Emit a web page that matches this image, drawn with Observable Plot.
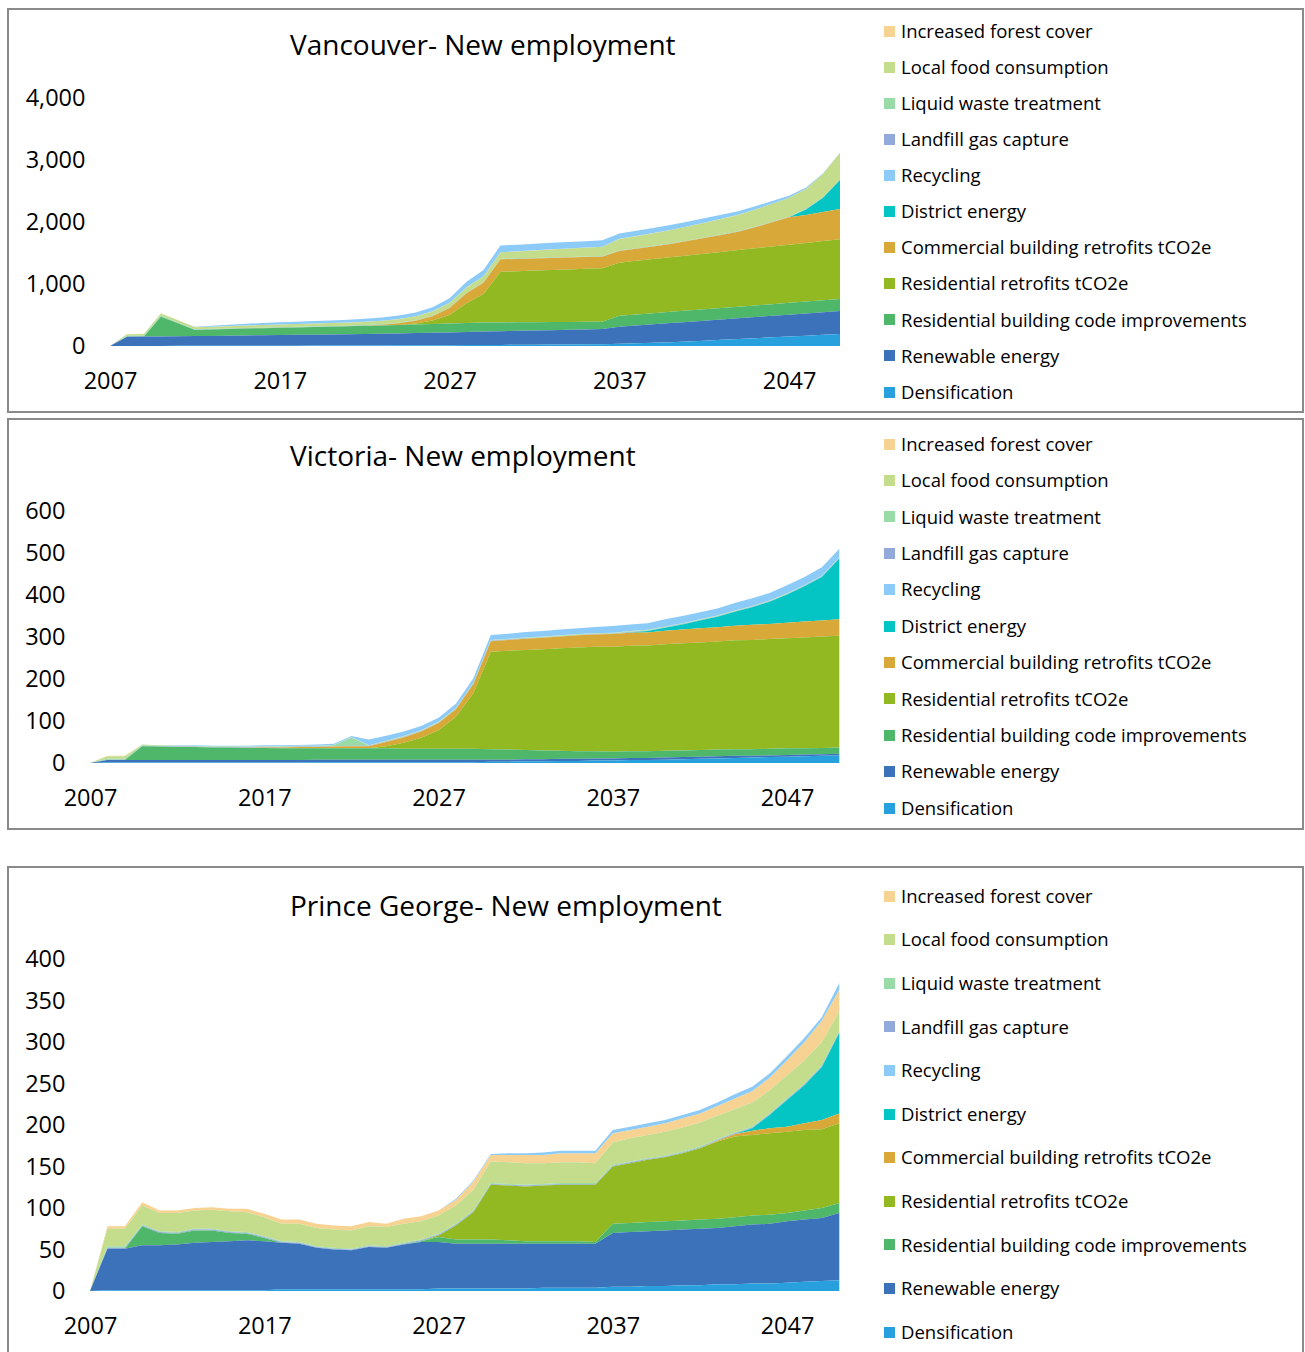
<!DOCTYPE html>
<html><head><meta charset="utf-8">
<script src="https://cdn.jsdelivr.net/npm/d3@7"></script>
<script src="https://cdn.jsdelivr.net/npm/@observablehq/plot@0.6"></script>
<style>
html,body{margin:0;padding:0;background:#fff;}
body{font-family:"Open Sans",sans-serif;color:#000;}
#root{position:relative;width:1305px;height:1352px;overflow:hidden;}
.frame{position:absolute;left:7px;width:1297px;border:2px solid #8a8a8a;box-sizing:border-box;}
.title{position:absolute;left:290px;font-size:28px;line-height:1;white-space:nowrap;}
.item{position:absolute;left:884px;height:20px;display:flex;align-items:center;font-size:18.5px;line-height:1;white-space:nowrap;}
.sw{width:11px;height:11px;margin-right:6px;flex:none;}
.chart{position:absolute;left:0;}
</style>
</head><body><div id="root"></div>
<script>
const years = [2007,2008,2009,2010,2011,2012,2013,2014,2015,2016,2017,2018,2019,2020,2021,2022,2023,2024,2025,2026,2027,2028,2029,2030,2031,2032,2033,2034,2035,2036,2037,2038,2039,2040,2041,2042,2043,2044,2045,2046,2047,2048,2049,2050];
const xTicks = [2007,2017,2027,2037,2047];
const vanYTicks = [0,1000,2000,3000,4000];
const vicYTicks = [0,100,200,300,400,500,600];
const pgYTicks = [0,50,100,150,200,250,300,350,400];

// legend order (as shown)
const seriesNames = ["Increased forest cover","Local food consumption","Liquid waste treatment","Landfill gas capture","Recycling","District energy","Commercial building retrofits tCO2e","Residential retrofits tCO2e","Residential building code improvements","Renewable energy","Densification"];
const seriesColors = ["#F7D393","#C3DD8C","#98DBA6","#92A9D9","#8CCBF8","#04C5C4","#D8A838","#92B822","#4FB76A","#3C72B9","#29A0DE"];
// stacking order, bottom to top
const stackOrder = ["Densification","Renewable energy","Residential building code improvements","Residential retrofits tCO2e","Commercial building retrofits tCO2e","District energy","Landfill gas capture","Liquid waste treatment","Local food consumption","Increased forest cover","Recycling"];

// Vancouver
const van_forest = [0,4,4,4,4,4,2,2,2,2,2,2,2,2,2,2,2,2,2,2,2,2,2,2,2,2,2,2,2,2,2,2,2,2,2,2,2,2,2,2,2,2,2,2];
const van_food = [0,25,25,35,33,30,33,35,38,40,42,44,46,48,50,52,55,58,62,68,75,85,95,105,112,120,128,135,142,150,185,195,205,215,226,237,248,260,275,290,306,323,376,430];
const van_liquid = [0,13,13,15,12,10,6,6,6,6,6,6,6,6,6,6,6,6,6,6,6,6,6,6,6,6,6,6,6,6,6,6,6,6,6,6,6,6,6,6,6,6,6,6];
const van_landfill = [0,3,3,3,3,3,3,3,3,3,3,3,3,3,3,3,3,3,3,3,3,3,3,3,3,3,3,3,3,3,3,3,3,3,3,3,3,3,3,3,3,3,3,3];
const van_recycling = [0,0,0,0,0,5,15,22,28,32,35,38,40,42,45,48,52,56,60,66,74,90,100,108,107,106,105,104,103,102,86,84,82,80,76,72,66,60,52,42,30,18,6,0];
const van_district = [0,0,0,0,0,0,0,0,0,0,0,0,0,0,0,0,0,0,0,0,0,0,0,0,0,0,0,0,0,0,0,0,0,0,0,0,0,0,0,0,0,90,230,467];
const van_commercial = [0,0,0,0,0,0,0,0,0,0,0,0,0,0,0,3,10,25,45,70,110,162,182,200,198,196,194,192,190,188,188,195,204,214,232,252,274,297,340,390,442,450,470,489];
const van_retrofits = [0,0,0,0,0,0,0,0,0,0,0,0,0,0,0,0,0,0,15,55,140,318,461,818,825,832,840,847,854,861,855,863,872,880,888,897,905,913,921,930,938,946,955,963];
const van_code = [0,0,0,318,208,98,105,109,112,115,118,120,123,125,128,131,134,137,140,142,144,146,146,142,138,134,130,126,122,118,178,179,180,181,183,183,185,186,188,188,190,191,192,193];
const van_renewable = [0,149,150,153,155,157,159,162,165,168,170,174,176,180,182,185,188,192,196,200,204,209,216,220,225,229,233,237,241,244,275,288,299,311,317,323,329,335,341,347,353,359,365,371];
const van_densification = [0,1,2,2,3,3,4,4,5,5,6,6,7,7,8,9,10,11,12,13,14,15,16,18,19,21,23,25,27,30,36,43,51,59,72,86,99,113,126,140,153,167,180,194];

// Victoria
const vic_forest = [0,1,1,0,0,0,0,0,0,0,0,0,0,0,0,0,0,0,0,0,0,0,0,0,0,0,0,0,0,0,0,0,0,0,0,0,0,0,0,0,0,0,0,0];
const vic_food = [0,6,6,2,1,1,1,1,1,1,1,1,1,1,1,1,1,1,1,1,1,1,1,1,1,1,1,1,1,1,1,1,1,1,1,1,1,1,1,1,1,1,1,1];
const vic_liquid = [0,2,2,1,1,1,1,1,1,1,1,1,1,1,2,20,0,1,1,1,1,1,1,1,1,1,1,1,1,1,1,1,1,1,1,1,1,1,1,1,1,1,1,1];
const vic_landfill = [0,1,1,1,1,1,1,1,1,1,1,1,1,1,1,1,1,1,1,1,1,1,1,1,1,1,1,1,1,1,1,1,1,1,1,1,1,1,1,1,1,1,1,1];
const vic_recycling = [0,0,0,0,0,1,1,1,1,2,2,2,2,3,3,2,14,12,11,10,10,10,11,12,12,13,13,14,14,15,16,16,16,17,17,17,17,18,18,18,19,19,20,20];
const vic_district = [0,0,0,0,0,0,0,0,0,0,0,0,0,0,0,0,0,0,0,0,0,0,0,0,0,0,0,0,0,0,0,1,3,7,12,18,25,33,42,53,67,84,104,145];
const vic_commercial = [0,0,0,0,0,0,0,0,0,0,1,2,3,3,4,5,5,10,13,15,17,18,22,25,26,27,27,28,29,29,30,31,31,32,33,34,34,35,36,36,37,38,38,39];
const vic_retrofits = [0,0,0,0,0,0,0,0,0,0,0,0,0,0,0,0,0,5,14,26,44,76,132,232,235,238,241,244,247,249,250,251,252,254,255,256,257,259,260,261,262,264,265,266];
const vic_code = [0,0,0,33,32,31,31,30,30,29,29,28,28,27,27,27,27,27,26,26,26,26,26,25,24,22,21,19,18,17,16,16,16,16,16,16,16,16,16,16,16,15,15,15];
const vic_renewable = [0,6,6,6,6,6,6,6,6,6,6,6,6,6,6,6,6,6,6,6,6,6,6,5,5,5,5,5,5,5,5,5,5,5,5,5,5,5,4,4,4,4,4,4];
const vic_densification = [0,1,1,1,1,1,1,1,1,1,1,1,1,2,2,2,2,2,2,2,2,2,2,3,3,4,4,5,5,6,6,7,7,8,9,10,11,12,13,14,15,16,17,18];

// Prince George
const pg_forest = [0,3,3,4,3,3,3,3,3,4,4,5,5,5,5,5,5,4,6,6,6,7,10,8,9,10,10,11,11,12,11,10,10,10,11,11,12,13,14,15,18,22,26,26];
const pg_food = [0,21,21,23,22,23,22,23,24,24,23,21,22,22,22,22,23,23,23,22,22,22,25,26,26,26,25,25,25,24,27,28,28,29,29,29,28,28,29,28,28,28,28,24];
const pg_liquid = [0,2,2,1,1,1,1,1,1,1,1,1,1,1,1,1,1,1,1,1,1,1,1,1,1,1,1,1,1,1,1,1,1,1,1,1,1,1,1,1,1,1,1,1];
const pg_landfill = [0,1,1,1,1,1,1,1,1,1,1,1,1,1,1,1,1,1,1,1,1,1,1,1,1,1,1,1,1,1,1,1,1,1,1,1,1,1,1,1,1,1,1,1];
const pg_recycling = [0,0,0,0,0,0,0,0,0,0,0,0,0,0,0,0,0,0,0,0,0,1,1,1,2,2,3,3,3,3,4,4,4,4,4,4,4,5,5,5,5,5,4,8];
const pg_district = [0,0,0,0,0,0,0,0,0,0,0,0,0,0,0,0,0,0,0,0,0,0,0,0,0,0,0,0,0,0,0,0,0,0,0,0,0,0,3,16,32,46,64,97];
const pg_commercial = [0,0,0,0,0,0,0,0,0,0,0,0,0,0,0,0,0,0,0,0,0,0,0,0,0,0,0,0,0,0,0,0,0,0,0,0,1,3,5,6,6,8,11,12];
const pg_retrofits = [0,0,0,0,0,0,0,0,0,0,0,0,0,0,0,0,0,0,0,0,2,17,33,66,66,66,67,68,68,69,69,72,75,77,81,86,93,97,97,98,98,97,95,96];
const pg_code = [0,0,0,23,15,13,15,14,10,8,4,0,0,0,0,0,0,0,0,1,6,5,5,5,4,3,3,3,3,2,11,11,11,11,11,11,11,11,11,11,10,11,12,12];
const pg_renewable = [0,50,50,54,54,55,57,58,59,60,59,56,55,50,48,47,51,50,54,57,56,54,54,54,54,54,53,53,53,53,65,66,66,67,67,68,68,70,71,72,74,75,76,81];
const pg_densification = [0,1,1,1,1,1,1,1,1,1,1,2,2,2,2,2,2,2,2,2,3,3,3,3,3,3,4,4,4,4,5,5,6,6,7,7,8,8,9,9,10,11,12,13];

const vanSeries = [van_forest,van_food,van_liquid,van_landfill,van_recycling,van_district,van_commercial,van_retrofits,van_code,van_renewable,van_densification];
const vicSeries = [vic_forest,vic_food,vic_liquid,vic_landfill,vic_recycling,vic_district,vic_commercial,vic_retrofits,vic_code,vic_renewable,vic_densification];
const pgSeries = [pg_forest,pg_food,pg_liquid,pg_landfill,pg_recycling,pg_district,pg_commercial,pg_retrofits,pg_code,pg_renewable,pg_densification];

// layout (page pixels)
const layout = [
  {title:"Vancouver- New employment", series:vanSeries, yTicks:vanYTicks, fmt:d3.format(","), frameTop:8, frameH:405, titleY:45, svgTop:70, svgH:326, mt:28, mb:50, ml:110, mr:20, legendY:31, legendStep:36.1},
  {title:"Victoria- New employment", series:vicSeries, yTicks:vicYTicks, fmt:d3.format("d"), frameTop:418, frameH:412, titleY:456, svgTop:490, svgH:323, mt:21, mb:50, ml:90, mr:20.7, legendY:444, legendStep:36.4},
  {title:"Prince George- New employment", series:pgSeries, yTicks:pgYTicks, fmt:d3.format("d"), frameTop:866, frameH:520, titleY:906, svgTop:940, svgH:401, mt:19, mb:50, ml:90, mr:20.7, legendY:896, legendStep:43.6}
];

const root = document.getElementById("root");
for (const p of layout) {
  const frame = document.createElement("div");
  frame.className = "frame";
  frame.style.top = p.frameTop + "px";
  frame.style.height = p.frameH + "px";
  root.appendChild(frame);

  const t = document.createElement("div");
  t.className = "title";
  t.textContent = p.title;
  t.style.top = (p.titleY - 15) + "px";
  root.appendChild(t);

  const rows = years.flatMap((yr, i) => seriesNames.map((s, k) => ({year: yr, series: s, value: p.series[k][i]})));
  const yMax = p.yTicks[p.yTicks.length - 1];
  const chart = Plot.plot({
    width: 860, height: p.svgH,
    marginLeft: p.ml, marginRight: p.mr, marginTop: p.mt, marginBottom: p.mb,
    style: {fontFamily: "'Open Sans', sans-serif", color: "#000", background: "transparent", overflow: "visible"},
    x: {domain: [2007, 2050]},
    y: {domain: [0, yMax]},
    color: {domain: seriesNames, range: seriesColors},
    marks: [
      Plot.areaY(rows, Plot.stackY({order: stackOrder}, {x: "year", y: "value", z: "series", fill: "series", curve: "linear"})),
      Plot.axisY({ticks: p.yTicks, tickFormat: p.fmt, tickSize: 0, tickPadding: 25, fontSize: 23.5, label: null}),
      Plot.axisX({ticks: xTicks, tickFormat: d => String(d), tickSize: 0, tickPadding: 26, fontSize: 23.5, label: null})
    ]
  });
  chart.classList.add("chart");
  chart.style.top = p.svgTop + "px";
  root.appendChild(chart);

  seriesNames.forEach((s, k) => {
    const it = document.createElement("div");
    it.className = "item";
    it.style.top = (p.legendY + k * p.legendStep - 10) + "px";
    const sw = document.createElement("span");
    sw.className = "sw";
    sw.style.background = seriesColors[k];
    const tx = document.createElement("span");
    tx.textContent = s;
    it.appendChild(sw); it.appendChild(tx);
    root.appendChild(it);
  });
}
</script></body></html>
